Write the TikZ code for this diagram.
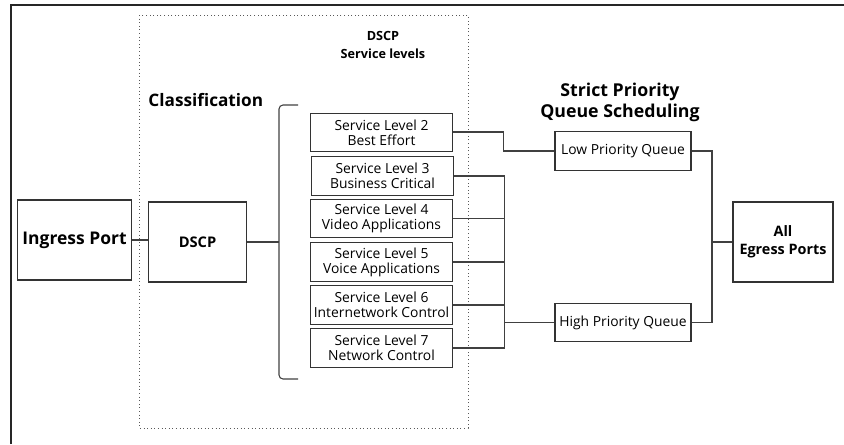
\documentclass[tikz,border=0pt]{standalone}
\usepackage{fontspec}
\setmainfont{Open Sans}
\begin{document}
\begin{tikzpicture}[x=0.75pt,y=-0.75pt,
  box/.style={draw=black!80,line width=0.9pt,rectangle,inner sep=0pt,align=center},
  slbox/.style={box,minimum width=106pt,minimum height=29pt,font=\fontsize{10.4}{11.4}\selectfont},
  qbox/.style={box,minimum width=102pt,minimum height=29pt,font=\fontsize{10.4}{11.4}\selectfont},
  bigbox/.style={box,minimum height=60pt},
  wire/.style={draw=black!75,line width=0.8pt},
  heading/.style={font=\bfseries,align=center,inner sep=0pt}]
\useasboundingbox (0,0) rectangle (844,444);

% outer frame edges
\draw[black!85,line width=1.1pt] (11,444) -- (11,5) -- (844,5);
% classification area
\draw[black!65,line width=0.7pt,dotted] (139,15) rectangle (468,428);

% headings
\node[heading,font=\bfseries\fontsize{12.9}{15}\selectfont] (hcls) at (205.8,100) {Classification};
\node[heading,font=\bfseries\fontsize{9.5}{13.5}\selectfont] (hdscp) at (383,45) {DSCP\\Service levels};
\node[heading,font=\bfseries\fontsize{13.3}{15.8}\selectfont] (hsched) at (620,102) {Strict Priority\\Queue Scheduling};

% ports and classifier
\node[bigbox,minimum width=85pt,font=\bfseries\fontsize{13.1}{15}\selectfont] (ing) at (74.5,240) {Ingress Port};
\node[bigbox,minimum width=74pt,font=\bfseries\fontsize{11}{13}\selectfont] (dscp) at (197.5,242) {DSCP};
\node[bigbox,minimum width=75pt,font=\bfseries\fontsize{10.8}{13.5}\selectfont] (egr) at (783,242) {All\\Egress Ports};

% service levels
\node[slbox] (sl2) at (381.5,132.5) {Service Level 2\\Best Effort};
\node[slbox] (sl3) at (382.5,176) {Service Level 3\\Business Critical};
\node[slbox] (sl4) at (381.5,218.5) {Service Level 4\\Video Applications};
\node[slbox] (sl5) at (381.5,262) {Service Level 5\\Voice Applications};
\node[slbox] (sl6) at (381.5,305) {Service Level 6\\Internetwork Control};
\node[slbox] (sl7) at (381.5,348) {Service Level 7\\Network Control};

% queues
\node[qbox] (low) at (623,151) {Low Priority Queue};
\node[qbox] (high) at (623,322.5) {High Priority Queue};

% bracket gathering the service levels
\coordinate (brt) at (298,105);
\coordinate (brb) at (298,379);
\draw[wire,rounded corners=3pt] (brt) -- (279,105) -- (279,379) -- (brb);

% connectors
\draw[wire] (ing.east) -- (dscp.west |- ing.east);
\draw[wire] (dscp.east) -- (279,242);

\coordinate (j2) at (503.5,132);
\draw[wire] (sl2.east |- j2) -- (j2) |- (low.west);

\coordinate (bus) at (504.5,322.5);
\foreach \s in {sl3,sl4,sl5,sl6,sl7}
  \draw[wire] (\s.east) -- (bus |- \s.east);
\draw[wire] (bus |- sl3.east) -- (bus |- sl7.east);
\draw[wire] (bus) -- (high.west);

\coordinate (merge) at (712,242);
\draw[wire] (low.east) -| (merge) |- (high.east);
\draw[wire] (merge) -- (egr.west);
\end{tikzpicture}
\end{document}
